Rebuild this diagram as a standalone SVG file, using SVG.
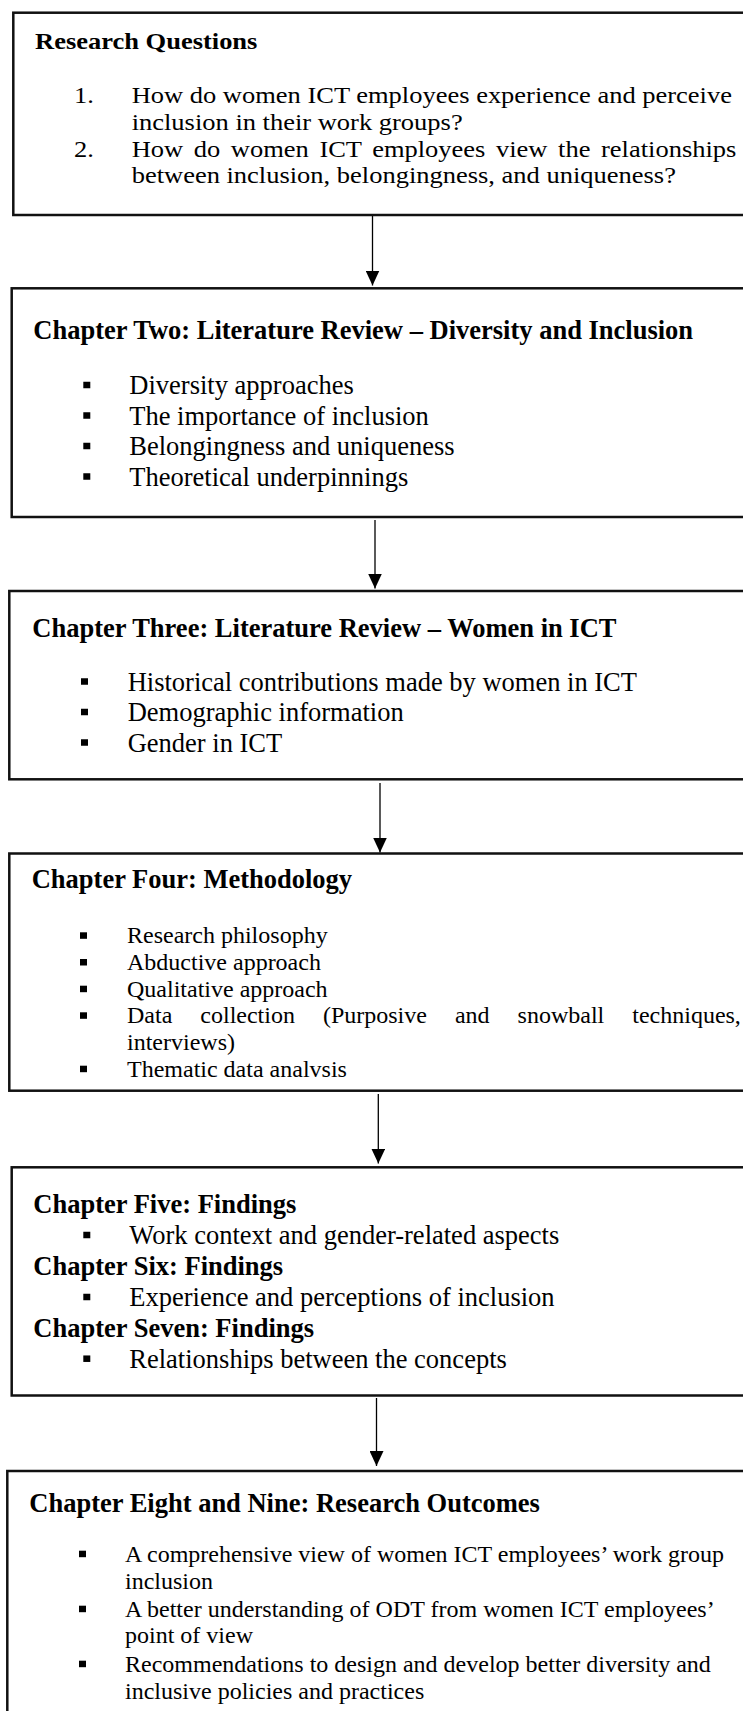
<svg xmlns="http://www.w3.org/2000/svg" xmlns:xlink="http://www.w3.org/1999/xlink" width="743" height="1711" viewBox="0 0 743 1711">
<style>
  .box { fill: #ffffff; stroke: #111111; stroke-width: 2.5; }
  .conn { stroke: #000000; stroke-width: 1.3; fill: none; }
  text { font-family: "Liberation Serif", "Times New Roman", serif; fill: #000000; }
  .t { font-size: 26.5px; font-weight: bold; }
  .i { font-size: 26.5px; }
  .s { font-size: 24px; }
  .t1 { font-size: 23px; font-weight: bold; }
  .i1 { font-size: 23px; }
</style>
<defs>
  <marker id="ah" markerUnits="userSpaceOnUse" markerWidth="15" markerHeight="14" refX="15" refY="7" orient="auto">
    <path d="M0,0 L15,7 L0,14 Z" fill="#000000"/>
  </marker>
  <rect id="sq" width="7" height="6.5" fill="#000000"/>
</defs>
<rect x="0" y="0" width="743" height="1711" fill="#ffffff"/>

<g id="connectors">
  <line class="conn" x1="372.5" y1="216" x2="372.5" y2="285.5" marker-end="url(#ah)"/>
  <line class="conn" x1="375" y1="520" x2="375" y2="588.5" marker-end="url(#ah)"/>
  <line class="conn" x1="380" y1="783" x2="380" y2="852.5" marker-end="url(#ah)"/>
  <line class="conn" x1="378.3" y1="1094" x2="378.3" y2="1163.5" marker-end="url(#ah)"/>
  <line class="conn" x1="376.5" y1="1398" x2="376.5" y2="1466" marker-end="url(#ah)"/>
</g>

<g id="research-questions">
  <rect class="box" x="13.3" y="12.7" width="760" height="202.3"/>
  <g transform="scale(1.152 1)">
    <text class="t1" x="30.4" y="49.3">Research Questions</text>
    <text class="i1" x="64.2" y="103.5">1.</text>
    <text class="i1" x="114.3" y="103.5">How do women ICT employees experience and perceive</text>
    <text class="i1" x="114.3" y="130.2">inclusion in their work groups?</text>
    <text class="i1" x="64.2" y="156.8">2.</text>
    <text class="i1" x="114.3" y="156.8" word-spacing="3.45">How do women ICT employees view the relationships</text>
    <text class="i1" x="114.3" y="183.2">between inclusion, belongingness, and uniqueness?</text>
  </g>
</g>

<g id="chapter-two">
  <rect class="box" x="11.7" y="288.3" width="760" height="228.7"/>
  <text class="t" x="33.3" y="339.3">Chapter Two: Literature Review – Diversity and Inclusion</text>
  <use xlink:href="#sq" x="83.3" y="381.75"/>
  <use xlink:href="#sq" x="83.3" y="412.25"/>
  <use xlink:href="#sq" x="83.3" y="442.75"/>
  <use xlink:href="#sq" x="83.3" y="473.25"/>
  <text class="i" x="129.3" y="394">Diversity approaches</text>
  <text class="i" x="129.3" y="424.5">The importance of inclusion</text>
  <text class="i" x="129.3" y="455">Belongingness and uniqueness</text>
  <text class="i" x="129.3" y="485.5">Theoretical underpinnings</text>
</g>

<g id="chapter-three">
  <rect class="box" x="9.3" y="591" width="760" height="188.3"/>
  <text class="t" x="32.3" y="636.7">Chapter Three: Literature Review – Women in ICT</text>
  <use xlink:href="#sq" x="81" y="678.25"/>
  <use xlink:href="#sq" x="81" y="708.75"/>
  <use xlink:href="#sq" x="81" y="739.25"/>
  <text class="i" x="127.7" y="690.5">Historical contributions made by women in ICT</text>
  <text class="i" x="127.7" y="721">Demographic information</text>
  <text class="i" x="127.7" y="751.5">Gender in ICT</text>
</g>

<g id="chapter-four">
  <rect class="box" x="9.3" y="853.5" width="760" height="237.2"/>
  <text class="t" x="31.7" y="888.3">Chapter Four: Methodology</text>
  <use xlink:href="#sq" x="80" y="932.3"/>
  <use xlink:href="#sq" x="80" y="959"/>
  <use xlink:href="#sq" x="80" y="985.7"/>
  <use xlink:href="#sq" x="80" y="1012.3"/>
  <use xlink:href="#sq" x="80" y="1065.7"/>
  <text class="s" x="127" y="943.3">Research philosophy</text>
  <text class="s" x="127" y="970">Abductive approach</text>
  <text class="s" x="127" y="996.7">Qualitative approach</text>
  <text class="s" x="127" y="1023.3" word-spacing="22">Data collection (Purposive and snowball techniques,</text>
  <text class="s" x="127" y="1050">interviews)</text>
  <text class="s" x="127" y="1076.7">Thematic data analvsis</text>
</g>

<g id="chapters-five-seven">
  <rect class="box" x="11.7" y="1167.3" width="760" height="228.2"/>
  <text class="t" x="33.3" y="1213.3">Chapter Five: Findings</text>
  <use xlink:href="#sq" x="83.3" y="1231.75"/>
  <text class="i" x="129.3" y="1244">Work context and gender-related aspects</text>
  <text class="t" x="33.3" y="1275">Chapter Six: Findings</text>
  <use xlink:href="#sq" x="83.3" y="1293.75"/>
  <text class="i" x="129.3" y="1306">Experience and perceptions of inclusion</text>
  <text class="t" x="33.3" y="1336.7">Chapter Seven: Findings</text>
  <use xlink:href="#sq" x="83.3" y="1355.45"/>
  <text class="i" x="129.3" y="1367.7">Relationships between the concepts</text>
</g>

<g id="chapters-eight-nine">
  <rect class="box" x="7.3" y="1471" width="760" height="280"/>
  <text class="t" x="29.3" y="1512.3">Chapter Eight and Nine: Research Outcomes</text>
  <use xlink:href="#sq" x="79" y="1550.7"/>
  <use xlink:href="#sq" x="79" y="1605.7"/>
  <use xlink:href="#sq" x="79" y="1660.7"/>
  <text class="s" x="125" y="1561.7">A comprehensive view of women ICT employees’ work group</text>
  <text class="s" x="125" y="1589.3">inclusion</text>
  <text class="s" x="125" y="1616.7">A better understanding of ODT from women ICT employees’</text>
  <text class="s" x="125" y="1643.3">point of view</text>
  <text class="s" x="125" y="1671.7">Recommendations to design and develop better diversity and</text>
  <text class="s" x="125" y="1699">inclusive policies and practices</text>
</g>
</svg>
